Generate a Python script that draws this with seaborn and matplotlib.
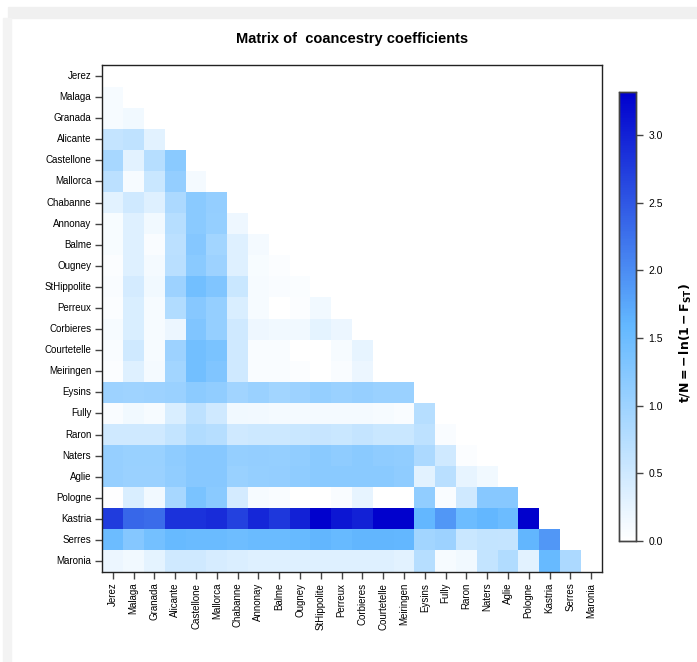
import numpy as np
import pandas as pd
import matplotlib
matplotlib.use('Agg')
import matplotlib.pyplot as plt
from matplotlib.colors import LinearSegmentedColormap
from matplotlib.patches import Rectangle
import seaborn as sns

POPS = ['Jerez', 'Malaga', 'Granada', 'Alicante', 'Castellone', 'Mallorca',
        'Chabanne', 'Annonay', 'Balme', 'Ougney', 'StHippolite', 'Perreux',
        'Corbieres', 'Courtetelle', 'Meiringen', 'Eysins', 'Fully', 'Raron',
        'Naters', 'Aglie', 'Pologne', 'Kastria', 'Serres', 'Maronia']

# lower triangle, row i holds values against populations 0..i-1
LOWER = [
    [],
    [0.10],
    [0.10, 0.15],
    [0.60, 0.65, 0.30],
    [0.90, 0.30, 0.75, 1.20],
    [0.70, 0.10, 0.55, 1.10, 0.12],
    [0.30, 0.50, 0.35, 0.85, 1.20, 1.10],
    [0.08, 0.35, 0.15, 0.75, 1.20, 1.08, 0.18],
    [0.08, 0.35, 0.07, 0.70, 1.25, 0.95, 0.35, 0.12],
    [0.05, 0.35, 0.12, 0.72, 1.20, 1.00, 0.35, 0.08, 0.04],
    [0.07, 0.45, 0.15, 1.00, 1.45, 1.30, 0.55, 0.10, 0.07, 0.06],
    [0.05, 0.40, 0.10, 0.80, 1.22, 1.08, 0.40, 0.10, 0.00, 0.04, 0.15],
    [0.10, 0.40, 0.10, 0.20, 1.30, 1.08, 0.50, 0.18, 0.15, 0.15, 0.28, 0.20],
    [0.07, 0.50, 0.10, 1.00, 1.45, 1.35, 0.50, 0.07, 0.07, 0.00, 0.00, 0.10,
     0.25],
    [0.05, 0.35, 0.12, 0.95, 1.45, 1.30, 0.50, 0.07, 0.07, 0.04, 0.00, 0.07,
     0.20, 0.00],
    [1.00, 0.98, 1.00, 1.03, 1.18, 1.12, 0.97, 1.03, 0.95, 1.00, 1.08, 1.03,
     1.07, 1.03, 1.03],
    [0.07, 0.15, 0.10, 0.40, 0.68, 0.50, 0.15, 0.13, 0.12, 0.12, 0.12, 0.12,
     0.12, 0.10, 0.07, 0.75],
    [0.50, 0.50, 0.50, 0.62, 0.80, 0.75, 0.50, 0.52, 0.52, 0.55, 0.58, 0.55,
     0.60, 0.55, 0.55, 0.68, 0.07],
    [1.07, 1.05, 1.05, 1.15, 1.22, 1.22, 1.08, 1.10, 1.08, 1.12, 1.20, 1.15,
     1.20, 1.15, 1.12, 0.85, 0.50, 0.04],
    [1.07, 1.03, 1.03, 1.12, 1.22, 1.22, 1.05, 1.08, 1.10, 1.15, 1.20, 1.20,
     1.20, 1.20, 1.15, 0.30, 0.72, 0.25, 0.15],
    [0.02, 0.40, 0.15, 0.90, 1.35, 1.20, 0.45, 0.10, 0.07, 0.00, 0.00, 0.07,
     0.25, 0.00, 0.00, 1.12, 0.07, 0.50, 1.22, 1.22],
    [2.75, 2.35, 2.30, 2.85, 2.85, 2.90, 2.70, 2.95, 2.80, 3.00, 3.30, 3.10,
     3.00, 3.30, 3.30, 1.60, 1.90, 1.50, 1.60, 1.50, 3.30],
    [1.50, 1.25, 1.42, 1.55, 1.52, 1.52, 1.48, 1.52, 1.52, 1.55, 1.62, 1.55,
     1.62, 1.62, 1.60, 0.95, 1.00, 0.55, 0.62, 0.60, 1.62, 1.90],
    [0.20, 0.15, 0.28, 0.50, 0.50, 0.42, 0.38, 0.35, 0.35, 0.35, 0.35, 0.35,
     0.35, 0.35, 0.30, 0.75, 0.10, 0.15, 0.62, 0.80, 0.30, 1.55, 0.85],
]
CBAR_TICKS = [0.0, 0.5, 1.0, 1.5, 2.0, 2.5, 3.0]

n = len(POPS)
mat = np.full((n, n), np.nan)
for i, row in enumerate(LOWER):
    mat[i, :len(row)] = row
df = pd.DataFrame(mat, index=POPS, columns=POPS)
mask = np.isnan(mat)

cmap = LinearSegmentedColormap.from_list(
    'coan', [(0.0, '#ffffff'), (0.48, '#63b8ff'), (1.0, '#0000cd')])

plt.rcParams['font.family'] = ['Liberation Sans', 'DejaVu Sans']

fig = plt.figure(figsize=(6.97, 6.62), dpi=100)
# faint grey page margins seen in the reference
fig.patches.append(Rectangle((0.012, 0.973), 0.988, 0.016, transform=fig.transFigure,
                             color='#f0f0f0', zorder=-1))
fig.patches.append(Rectangle((0.004, 0.0), 0.012, 0.973, transform=fig.transFigure,
                             color='#f3f3f3', zorder=-1))

ax = fig.add_axes([0.147, 0.1366, 0.716, 0.7645])
cax = fig.add_axes([0.888, 0.183, 0.0244, 0.678])

sns.heatmap(df, mask=mask, cmap=cmap, vmin=0, vmax=3.32, ax=ax, cbar_ax=cax,
            square=False, linewidths=0, cbar_kws={'ticks': CBAR_TICKS})

for sp in ax.spines.values():
    sp.set_visible(True)
    sp.set_color('#222222')
    sp.set_linewidth(1.0)
ax.tick_params(axis='both', length=5, width=1, color='#444444',
               labelsize=7, pad=3)
ax.set_xticklabels(POPS, rotation=90, fontsize=7)
ax.set_yticklabels(POPS, rotation=0, fontsize=7)
ax.set_xlabel('')
ax.set_ylabel('')
ax.set_title('Matrix of  coancestry coefficients', fontsize=10.5,
             fontweight='bold', pad=16)

for sp in cax.spines.values():
    sp.set_visible(True)
    sp.set_color('#444444')
    sp.set_linewidth(1.0)
cax.tick_params(length=5, width=1, color='#444444', labelsize=7.5, pad=4)
cax.set_yticklabels([f'{t:.1f}' for t in CBAR_TICKS])
cax.set_ylabel(r'$\mathbf{t/N = -\,ln(1 - F_{ST})}$', fontsize=9,
               rotation=90)
cax.yaxis.set_label_coords(3.45, 0.44)

fig.savefig('out.png', dpi=100)
